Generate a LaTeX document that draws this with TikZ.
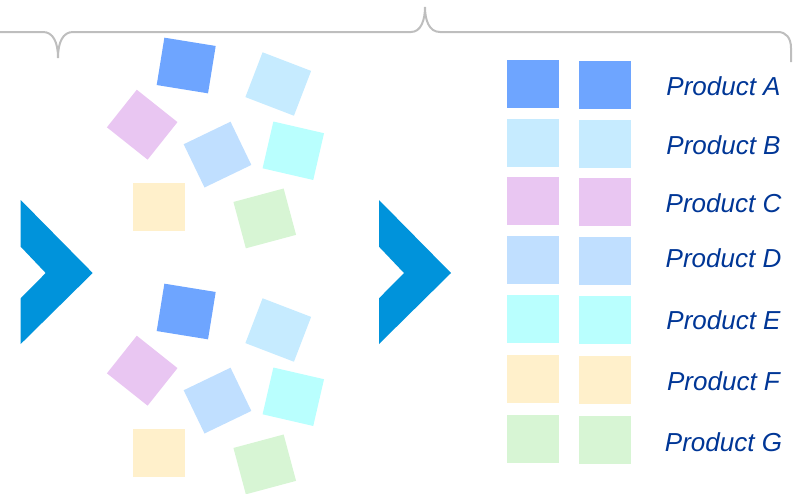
\documentclass[tikz,border=0pt]{standalone}
\usepackage{fontspec}
\setmainfont{Liberation Sans}
\definecolor{cBlue}{RGB}{110,165,255}
\definecolor{cLight}{RGB}{198,235,255}
\definecolor{cPurple}{RGB}{233,198,242}
\definecolor{cMid}{RGB}{192,223,255}
\definecolor{cCyan}{RGB}{185,255,254}
\definecolor{cYellow}{RGB}{255,240,203}
\definecolor{cGreen}{RGB}{215,245,212}
\definecolor{cChev}{RGB}{0,147,219}
\definecolor{cLabel}{RGB}{0,54,150}
\definecolor{cBrace}{RGB}{190,190,190}
\begin{document}
\begin{tikzpicture}[x=1pt,y=-1pt,
  sq/.style={inner sep=0pt,minimum width=52pt,minimum height=48pt,draw=none},
  chev/.style={fill=cChev},
  brace/.style={draw=cBrace,line width=2pt},
  lbl/.style={anchor=base,text=cLabel,font=\fontsize{26}{30}\selectfont\itshape,inner sep=0pt}]
\useasboundingbox (0,0) rectangle (793,493);
% brace
\draw[brace] (0,32) -- (43,32) .. controls (53,32) and (58,42) .. (58,58)
  .. controls (58,42) and (63,32) .. (73,32) -- (411,32)
  .. controls (421,32) and (425,20) .. (425,7)
  .. controls (425,20) and (429,32) .. (440,32) -- (778,32)
  .. controls (786,32) and (791,38) .. (791,48) -- (791,62);
% chevrons
\fill[chev] (20.7,200) -- (92.7,273) -- (20.7,344) -- (20.7,298.3) -- (45.7,273) -- (20.7,246.7) -- cycle;
\fill[chev] (379,200) -- (451,273) -- (379,344) -- (379,298.3) -- (404,273) -- (379,246.7) -- cycle;
% scattered groups
\foreach \g/\dy in {1/0,2/246}{
  \node[sq,fill=cBlue,rotate=-9.2] (sa\g) at (186.2,65.5+\dy) {};
  \node[sq,fill=cLight,rotate=-21] (sb\g) at (278.25,84+\dy) {};
  \node[sq,fill=cPurple,rotate=-38.5] (sc\g) at (142.2,124.7+\dy) {};
  \node[sq,fill=cMid,rotate=25.7] (sd\g) at (217.5,154.6+\dy) {};
  \node[sq,fill=cCyan,rotate=-13] (se\g) at (293.3,150.75+\dy) {};
  \node[sq,fill=cYellow] (sf\g) at (158.8,207+\dy) {};
  \node[sq,fill=cGreen,rotate=15] (sg\g) at (264.75,218.4+\dy) {};
}
% product column
\foreach \n/\c/\y/\b in {A/cBlue/84.2/95.7, B/cLight/143/154.3, C/cPurple/201.2/212.7, D/cMid/260/267.3, E/cCyan/318.7/329.3, F/cYellow/379.2/390.7, G/cGreen/439.3/451.7}{
  \node[sq,fill=\c] (p\n1) at (533,\y) {};
  \node[sq,fill=\c] (p\n2) at (605,\y+1) {};
  \node[lbl] (l\n) at (723.5,\b) {Product \n};
}
\end{tikzpicture}
\end{document}
